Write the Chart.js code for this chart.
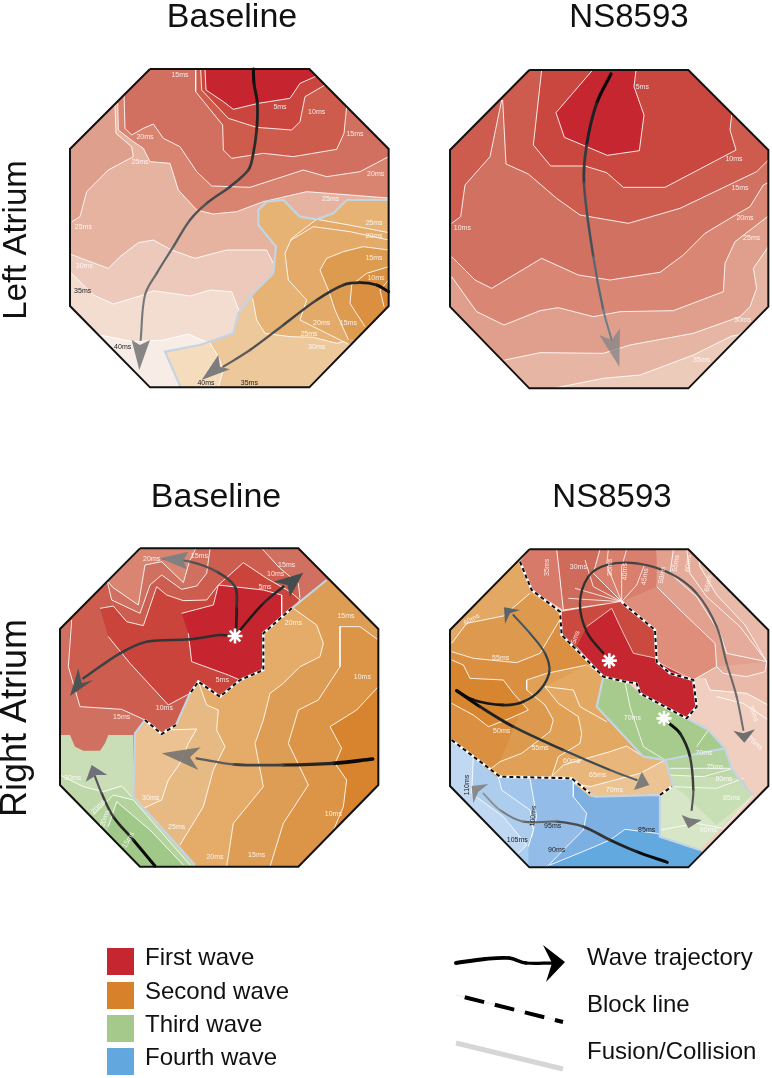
<!DOCTYPE html>
<html><head><meta charset="utf-8">
<script src="https://cdn.jsdelivr.net/npm/chart.js@4"></script>
<style>html,body{margin:0;padding:0;background:#fff}canvas{display:block;filter:blur(.3px)}</style>
</head><body><canvas id="c" width="772" height="1078"></canvas>
<script>
// ---------- text ----------
const panelTitles = [["Baseline",232,27,34],["NS8593",629,27,33],["Baseline",216,507,34],["NS8593",612,507,33]];
const rowTitles = [["Left Atrium",26,240,33],["Right Atrium",26,718,36]];
const legendWaves = ["First wave","Second wave","Third wave","Fourth wave"];
const legendLines = ["Wave trajectory","Block line","Fusion/Collision"];

// ---------- octagons ----------
const octA=[300,57,778,57,1016,297,1016,768,778,1012,300,1012,60,768,60,297];
const octB=[298,60,775,60,1015,300,1015,770,775,1015,298,1015,60,770,60,300];
const octC=[270,55,745,55,985,297,985,765,745,1010,270,1010,30,765,30,297];
const octD=[298,58,775,58,1015,300,1015,768,775,1012,298,1012,60,768,60,300];

// ---------- Left atrium, baseline ----------
const a40=[60,790,150,855,250,875,340,870,415,852,500,890];
const a35=[60,665,130,735,190,762,280,735,310,722,420,738,480,720,545,725,570,790];
const a30=[60,612,120,635,175,655,210,620,265,578,310,570,365,600,435,625,530,600,650,600,680,660];
const a25L=[195,165,198,250,245,290,250,320,175,360,110,425,90,500,66,515];
const a25=[203,160,205,240,250,275,280,295,300,335,360,340,385,420,440,480,490,492,560,485,640,455,770,425,900,435,1050,447];
const a20=[222,130,225,235,245,255,280,235,310,222,340,265,390,290,440,365,485,408,600,412,760,360,830,380,930,365,1016,320];
const a15=[437,57,437,125,518,225,520,300,545,325,640,310,730,320,860,298,882,250,890,170];
const a10=[452,57,455,120,535,205,620,232,725,240,750,215,765,140,825,105];
const a5=[465,57,468,120,520,155,550,178,625,160,720,145,750,100,800,78];
const aRim=[1016,450,890,450,850,490,800,508,750,500,700,450,650,455,625,480,625,525,678,590,670,670,610,730,565,790,550,850];
const aFuse=[1016,450,890,450,850,490,800,508,750,500,700,450,650,455,625,480,625,525,678,590,670,670,610,730,565,790,550,850,450,885,345,905,392,1012];
const aO35=[478,876,505,920,520,960,505,1012];
const aO30=[608,745,620,810,645,850,720,860,790,862,860,880,900,870];
const aO25=[1016,548,950,535,880,522,800,508,725,565,705,610,715,690,770,750,750,810,830,850,895,882];
const aO25b=[720,572,790,530,900,545,1016,570];
const aO20=[1016,600,940,590,880,605,830,625,810,660,835,720,855,780,895,868];
const aO15=[1016,650,950,670,905,705,900,760,945,830];
const aO10=[1016,690,990,720,1002,770];
const aTraj1=[610,57,612,100,622,160,620,240,608,320,595,360,540,410,470,460,420,510,370,590,320,670,285,735,272,870];
const aHead1=[268,960,245,870,270,885,300,870];
const aTraj2=[1016,725,980,705,930,698,880,705,800,750,700,825,600,900,520,950];
const aHead2=[455,990,505,915,510,950,540,958];
const aLabelsLight=[["15ms",390,75],["5ms",690,172],["10ms",800,185],["15ms",915,253],["20ms",285,262],["25ms",270,335],["20ms",977,372],["25ms",842,448],["25ms",972,518],["25ms",100,530],["20ms",972,558],["15ms",972,625],["30ms",103,648],["10ms",978,683],["20ms",815,818],["15ms",895,818],["25ms",777,852],["30ms",800,892]];
const aLabelsDark=[["35ms",98,722],["40ms",218,892],["40ms",468,998],["35ms",598,998]];

// ---------- Left atrium, NS8593 ----------
const b35=[370,1015,520,985,630,975,790,915,905,858,925,855,1020,775];
const b30=[225,930,330,908,520,910,600,885,790,850,930,800,960,770,980,715,970,655,1015,590];
const b25=[65,680,140,785,222,825,330,782,385,773,490,800,570,785,730,782,880,725,885,640,915,575,1015,498];
const b20=[65,620,135,690,185,715,335,625,445,675,540,690,690,667,760,615,825,550,925,490,960,470,1000,405,1050,380];
const b15=[218,150,228,342,295,372,380,445,450,495,595,520,750,475,980,365,1015,330];
const b15L=[215,150,180,320,105,405,92,500,65,520];
const b10=[335,60,310,285,362,348,465,348,530,368,580,412,705,412,918,300,900,240,905,195];
const b5=[488,60,378,188,403,262,532,316,628,302,642,195,612,110,618,60];
const bTraj=[543,72,500,160,470,285,462,400,490,620,520,780,545,870];
const bHead=[568,950,508,855,545,870,570,835];
const bLabels=[["5ms",637,110],["10ms",912,327],["15ms",930,415],["20ms",945,505],["10ms",97,533],["25ms",965,563],["30ms",938,810],["35ms",815,930]];

// ---------- Right atrium, baseline ----------
const cLobe=[440,50,418,95,400,158,335,95,285,105,265,225,188,172,170,150];
const c15Top=[480,57,470,130,440,168,395,178,335,135,300,165,270,250,185,210,172,155];
const c15Rest=[60,270,55,410,90,530,215,538,285,570,335,612,378,585,445,455,510,500,570,450,640,420,640,310,725,235,750,205,745,160,690,115,635,55];
const c15LineA=[65,270,55,410,90,530,215,538,285,570];
const c15LineB=[750,205,745,160,690,115,635,55];
const c10=[150,235,190,228,230,275,280,287,320,170,350,195,400,212,470,210,505,165,580,98,650,145,720,185,750,210,725,240,640,300,640,420,570,450,510,500,445,455,420,490,355,525,240,400,175,320];
const cCore=[395,250,490,225,505,165,640,180,695,195,695,260,640,310,640,410,620,440,570,450,535,435,425,395,415,310];
const cRim=[830,150,725,235,640,310,640,420,570,450,510,500,445,455,420,490,378,585];
const cOrange=[830,150,725,235,640,310,640,420,570,450,510,500,445,455,420,490,378,585,335,612,285,570,255,610,250,800,435,1008,745,1050,1050,1050,1050,150];
const cO30=[345,600,440,597,415,640,390,700,355,750,335,810,280,835];
const cO25=[445,455,470,525,505,540,500,600,525,650,490,720,460,830,390,945];
const cO20=[730,235,800,285,820,340,810,380,750,410,700,460,660,490,640,570,615,640,640,770,550,880,530,1010];
const cO15=[985,330,930,290,870,290,870,410,805,510,745,540,715,640,775,765,700,880,660,1010];
const cO10=[985,470,920,540,840,590,875,655,855,700,890,750,880,830,805,1010];
const cGreen=[0,615,60,615,75,650,100,662,150,662,165,640,175,615,250,615,250,800,435,1008,270,1050,0,800];
const cG30=[30,735,100,770,160,785,215,768,245,800];
const cG25=[130,855,190,795,250,810,420,1005];
const cG20=[175,890,200,815,300,900,400,1005];
const cFuse1=[830,150,725,235];
const cFuse2=[420,490,378,585];
const cFuse3=[285,570,255,610,250,800,435,1005];
const cBlock1=[725,235,640,310,640,420,570,450,510,500,445,455,420,490];
const cBlock2=[285,570,335,612,378,585];
const cStar=[555,318];
const cTraj1=[555,318,510,315,420,328,290,335,210,370,100,445];
const cHead1=[60,498,85,415,95,460,130,450];
const cTraj2=[558,310,560,230,555,170,500,125,420,95,340,87];
const cHead2=[330,85,415,65,400,90,410,118];
const cTraj3=[570,300,640,220,700,170];
const cHead3=[760,128,670,155,712,165,720,200];
const cTraj4=[968,687,850,700,700,705,550,703,440,685];
const cHead4=[335,670,452,652,420,682,445,720];
const cTraj5=[315,1008,250,930,190,860,155,790,135,740];
const cHead5=[125,705,172,735,140,735,107,755];
const cLabels=[["20ms",305,87],["15ms",448,78],["15ms",710,105],["10ms",677,133],["5ms",645,172],["20ms",730,278],["15ms",888,258],["10ms",937,440],["5ms",517,450],["10ms",343,535],["15ms",215,562],["30ms",68,745],["30ms",302,803],["25ms",380,890],["10ms",850,853],["20ms",495,982],["15ms",620,975],["20ms",145,830,-45],["20ms",165,865,-70],["15ms",235,930,-60]];

// ---------- Right atrium, NS8593 ----------
const dLow=[825,445,840,480,950,490,1015,525];
const dB2=[800,58,810,110,860,195,945,285,1010,395,1005,425,950,440,880,430,860,410];
const dB3=[730,58,720,130,800,200,870,310,890,370,1010,395];
const dB3b=[770,58,780,130,830,200,930,290,1010,395];
const dB4=[680,60,670,120,680,170,750,240,855,340,860,410,790,450];
const dExtra=[860,500,940,520,1015,570];
const dL0=[380,58,385,100,400,240,305,180,270,95,298,58];
const dL1=[380,58,385,100,400,240,575,215,490,130,510,58];
const dFan1=[575,215,415,205];
const dFan2=[575,215,435,175];
const dFan3=[575,215,530,105,535,58];
const dFan4=[575,215,575,110,590,58];
const dFan5=[575,215,620,165,645,100];
const dFan6=[575,215,490,170,465,90];
const dFan7=[400,240,440,290];
const dFan8=[400,280,540,235];
const dRed1=[395,245,575,215,585,225,675,300,680,395,790,450,800,530,770,565,625,490,615,460,520,440,395,315];
const dRed0=[470,290,545,235,580,310,610,370,680,385,690,400,790,450,800,530,770,565,625,490,615,460,520,440,440,350];
const dOrange=[270,95,305,180,390,245,395,315,520,440,500,530,640,680,705,690,730,770,690,795,480,800,425,745,220,740,65,630,0,630,0,95];
const dO60=[65,340,110,280,220,258,300,190];
const dO55=[65,365,130,385,260,398,330,370,392,265];
const dO50=[65,390,100,405,120,445,220,450,250,490,295,540,240,565,175,590,130,555,65,520];
const dR1=[495,420,470,405,350,430,290,450,290,480,345,525,370,570,360,605,275,670,210,695,180,718];
const dR2=[345,470,385,520,445,560,455,610,450,640,385,680,365,740];
const dR2b=[345,470,430,480,450,530,530,575];
const dR3=[365,740,400,705,540,665,590,648,640,680,705,690];
const dR4=[430,760,480,770,630,730,705,690];
const dGreen=[520,440,585,455,620,480,630,490,770,565,780,565,835,600,885,655,905,715,945,770,970,795,810,960,690,920,690,795,730,770,705,690,640,680,500,530];
const dG1=[730,770,760,790,800,830,860,885,968,797,945,770,905,715,885,655,705,690];
const dG2=[720,735,935,745,968,797,945,770,905,715,885,655,705,690];
const dG3=[705,690,885,655,905,715,720,715];
const dG0=[520,440,590,455,630,490,770,565,835,600,885,655,705,690,640,680,500,530];
const dGL1=[585,455,600,530,640,650,705,690];
const dGL2=[800,650,835,600];
const dGL3=[720,735,820,740,910,715];
const dGL4=[730,770,860,775,940,745];
const dGL5=[690,900,800,880,880,895,968,797];
const dBlue=[65,630,210,740,425,745,480,800,690,795,690,920,810,960,780,1050,298,1050,0,770,0,630];
const dBL1=[130,680,125,790,220,860,290,945,250,985];
const dBL2=[205,740,215,780,300,840,310,900,295,950];
const dBL3=[300,745,320,860,305,920,265,975];
const dBL4=[430,750,430,800,470,850,460,900,400,960,350,1012];
const dBL5=[360,1005,470,960,540,930,585,898,680,910,810,960];
const dFuseA=[520,440,500,530,640,680,705,690,730,770];
const dFuseB=[480,790,495,800,690,795,690,920,810,960];
const dFuseC=[705,690,885,655,905,715,945,770,970,795];
const dFuseD=[770,565,835,600,885,655];
const dBlock1=[270,95,305,180,390,245,395,315,520,440,585,455,620,460,630,490,770,565,800,530,790,450,720,430,680,395,675,300,585,225,575,215];
const dBlock2=[65,630,210,740,425,745,480,790];
const dBlock3=[690,795,725,770];
const dStar1=[538,392];
const dStar2=[702,565];
const dTraj1=[520,370,470,305,450,220,475,140,530,105,620,100,720,130,800,190,860,290,890,400,920,500,940,600];
const dHead1=[943,638,910,602,940,610,975,598];
const dTraj2=[80,482,130,510,220,525,280,515,330,480,358,425,345,370,300,310,250,255];
const dHead2=[222,232,270,240,240,250,225,282];
const dTraj3=[80,482,150,530,250,590,400,660,540,720,620,750];
const dHead3=[658,765,635,725,625,750,612,780];
const dTraj4=[715,578,750,610,780,680,790,780,785,840];
const dHead4=[775,895,755,855,780,865,815,870];
const dTraj5=[712,997,620,965,540,930,460,890,380,875,280,875,210,840,160,790];
const dHead5=[125,768,175,762,145,785,130,820];
const dLabelsLight=[["35ms",350,112,-90],["30ms",445,112],["35ms",540,112,-90],["40ms",585,125,-90],["45ms",645,140,-80],["50ms",697,135,-80],["55ms",738,100,-80],["60ms",775,100,-85],["65ms",835,160,-80],["60ms",125,268,-30],["55ms",212,385],["5ms",437,322,-70],["50ms",215,603],["55ms",330,655],["60ms",425,692],["65ms",503,735],["70ms",553,780],["70ms",607,563],["70ms",822,668],["75ms",855,710],["80ms",882,748],["85ms",905,803],["90ms",835,900],["70ms",970,550,70],["75ms",975,640,40]];
const dLabelsDark=[["110ms",110,765,-90],["100ms",310,858,-85],["95ms",368,887],["105ms",262,930],["90ms",380,960],["85ms",650,900]];

// ---------- Legend (page units) ----------
const legSwatches=[[107,948,134,948,134,975,107,975],[107,982,134,982,134,1009,107,1009],[107,1015,134,1015,134,1042,107,1042],[107,1048,134,1048,134,1075,107,1075]];
const legTraj=[456,963,485,959,509,958,526,963,552,963];
const legHead=[565,962,543,945,552,963,546,982];
const legBlock=[456,995,563,1022];
const legFuse=[456,1043,563,1069];

// ---------- helpers ----------
const A={ox:50,oy:50,k:1/3,oct:octA},B={ox:430,oy:50,k:1/3,oct:octB},C={ox:50,oy:530,k:1/3,oct:octC},D={ox:430,oy:530,k:1/3,oct:octD},PAGE={ox:0,oy:0,k:1};
const pts=(f,p)=>{const r=[];for(let i=0;i<f.length;i+=2)r.push({x:p.ox+f[i]*p.k,y:p.oy+f[i+1]*p.k});return r;};
function clip(points,p,closed){
  if(!p.oct)return points;const o=pts(p.oct,p);let out=points;
  for(let i=0;i<o.length;i++){
    const a=o[i],b=o[(i+1)%o.length],ins=q=>(b.x-a.x)*(q.y-a.y)-(b.y-a.y)*(q.x-a.x)>=0;
    const hit=(s,e)=>{const d1=(b.x-a.x)*(s.y-a.y)-(b.y-a.y)*(s.x-a.x),d2=(b.x-a.x)*(e.y-a.y)-(b.y-a.y)*(e.x-a.x),t=d1/(d1-d2);return{x:s.x+(e.x-s.x)*t,y:s.y+(e.y-s.y)*t};};
    const res=[];
    for(let j=0;j<out.length;j++){
      const cur=out[j];let prev=out[j-1];
      if(j===0){if(closed)prev=out[out.length-1];else{if(ins(cur))res.push(cur);continue;}}
      if(ins(cur)){if(!ins(prev))res.push(hit(prev,cur));res.push(cur);}
      else if(ins(prev))res.push(hit(prev,cur));
    }
    out=res;
  }
  return out;
}
const datasets=[];
const base={showLine:true,pointRadius:0,pointHoverRadius:0,borderWidth:0,tension:0};
function area(p,color,...parts){datasets.push({...base,data:clip(pts(parts.flat(),p),p,true),fill:'shape',backgroundColor:color,borderColor:color});}
function iso(p,f,w=1,c='rgba(255,255,255,.88)'){datasets.push({...base,data:clip(pts(f,p),p,false),borderColor:c,borderWidth:w,fill:false});}
function band(p,color,contour,...closure){area(p,color,contour,...closure);iso(p,contour);}
function outline(p){const f=p.oct.concat(p.oct.slice(0,2));datasets.push({...base,data:pts(f,p),borderColor:'#111',borderWidth:2,fill:false,borderJoinStyle:'miter'});}
function fuse(p,f){iso(p,f,2.2,'#c3d5e3');}
function block(p,f){iso(p,f,2.6,'#ffffff');datasets.push({...base,data:pts(f,p),borderColor:'#0d0d0d',borderWidth:2,borderDash:[4,3],fill:false});}
const hex=c=>[1,3,5].map(i=>parseInt(c.substr(i,2),16));
const mix=(a,b,t)=>{const x=hex(a),y=hex(b);return `rgb(${x.map((v,i)=>Math.round(v+(y[i]-v)*t)).join(',')})`;};
function traj(p,f,c0,c1,w0,w1,head,hc){
  const d=pts(f,p),n=Math.max(d.length-1,1);
  datasets.push({...base,data:d,tension:.35,borderColor:c0,borderWidth:w0,borderCapStyle:'round',borderJoinStyle:'round',fill:false,
    segment:{borderColor:s=>mix(c0,c1,s.p0DataIndex/n),borderWidth:s=>w0+(w1-w0)*s.p0DataIndex/n}});
  datasets.push({...base,data:pts(head,p),fill:'shape',backgroundColor:hc,borderColor:hc});
}
function star(p,f){const q=pts(f,p);datasets.push({data:q,showLine:false,pointStyle:'star',pointRadius:7.5,pointHoverRadius:7.5,pointBorderColor:'#fff',pointBackgroundColor:'#fff',pointBorderWidth:2.6,borderColor:'#fff'});}

// ---------- Panel A ----------
area(A,'#f8ece6',[0,0,1050,0,1050,1050,0,1050]);
band(A,'#f3dcd0',a40,[1050,890,1050,0,0,0,0,790]);
band(A,'#ecc9ba',a35,[1050,790,1050,0,0,0,0,665]);
band(A,'#e6b3a1',a30,[1050,660,1050,0,0,0,0,612]);
band(A,'#df9f8d',a25L,[0,515,0,0,195,0]);
band(A,'#d98471',a25,[1050,0,203,0]);
band(A,'#d17060',a20,[1050,300,1050,0,222,0]);
band(A,'#ce5c4c',a15,[890,0,437,0]);
band(A,'#ca453d',a10,[850,90,850,0,452,0]);
band(A,'#c6252f',a5,[800,0,465,0]);
area(A,'#f5dcbd',aFuse,[1050,1050,1050,450]);
band(A,'#edc89a',aO35,[505,1050,1050,1050,1050,450],aRim);
band(A,'#e6b375',aO30,[1050,870,1050,450],aRim.slice(0,24));
band(A,'#e3aa69',aO25,[1050,882,1050,548]);
iso(A,aO25b);
band(A,'#dd9b50',aO20,[1050,860,1050,600]);
band(A,'#da9040',aO15,[1050,820,1050,650]);
band(A,'#d8862f',aO10,[1050,770,1050,690]);
fuse(A,aFuse);
outline(A);
traj(A,aTraj1,'#0d0d0d','#7d8385',3,2,aHead1,'#868686');
traj(A,aTraj2,'#0d0d0d','#6a6a6a',3,2,aHead2,'#7d7d7d');

// ---------- Panel B ----------
area(B,'#edcbbb',[0,0,1050,0,1050,1050,0,1050]);
band(B,'#e6b5a3',b35,[1050,775,1050,0,0,0,0,1020]);
band(B,'#e09f8c',b30,[1050,560,1050,0,0,0,0,850]);
band(B,'#d98774',b25,[1050,498,1050,0,0,0,0,680]);
band(B,'#d17161',b20,[1050,0,0,0,0,620]);
band(B,'#cd5c4e',b15,[1050,330,1050,0,218,0]);
band(B,'#cd5c4e',b15L,[0,525,0,0,215,0]);
band(B,'#c9473e',b10,[920,0,335,0]);
band(B,'#c6262f',b5,[618,0,488,0]);
outline(B);
traj(B,bTraj,'#0a0a0a','#7e99a4',3.2,1.8,bHead,'rgba(135,135,135,.8)');

// ---------- Panel C ----------
area(C,'#d07060',[0,0,1050,0,1050,1050,0,1050]);
band(C,'#d98572',cLobe,[270,0,440,0]);
area(C,'#cd5d4e',c15Rest,[620,0,480,0],c15Top);
iso(C,c15Top);iso(C,c15LineA);iso(C,c15LineB);
area(C,'#ca443c',c10);iso(C,c10);
area(C,'#c6252f',cCore);iso(C,cCore);
area(C,'#ecc293',cOrange);
band(C,'#e8ba83',cO30,[435,1008,745,1050,1050,1050,1050,150],cRim);
band(C,'#e4ab69',cO25,[435,1008,745,1050,1050,1050,1050,150],cRim.slice(0,12));
band(C,'#de9d55',cO20,[1050,1050,1050,150,830,150]);
band(C,'#dc9547',cO15,[1050,1050,1050,330]);
band(C,'#d8842f',cO10,[1050,1050,1050,470]);
area(C,'#c9deb6',cGreen);
band(C,'#bfd8aa',cG30,[435,1008,270,1050,0,800,0,735]);
band(C,'#b3d29c',cG25,[270,1050,80,900]);
band(C,'#a0c888',cG20,[400,1050,175,1050]);
fuse(C,cFuse1);fuse(C,cFuse2);fuse(C,cFuse3);
block(C,cBlock1);block(C,cBlock2);
outline(C);
traj(C,cTraj1,'#2a2a2a','#404849',2.6,2.4,cHead1,'#4d5354');
traj(C,cTraj2,'#222222','#707070',2.8,2,cHead2,'#808080');
traj(C,cTraj3,'#1a1a1a','#303a3c',2.4,2.6,cHead3,'#454c4e');
traj(C,cTraj4,'#0a0a0a','#777777',3.6,2,cHead4,'rgba(110,110,110,.85)');
traj(C,cTraj5,'#0a0a0a','#6d6d75',3,1.8,cHead5,'#70707a');
star(C,cStar);

// ---------- Panel D ----------
area(D,'#f0cfc0',[0,0,1050,0,1050,1050,0,1050]);
band(D,'#e9baa9',dLow,[1050,525,1050,0,800,0,780,440]);
area(D,'#e6ac9b',dB2,[700,300,700,58]);iso(D,dB2);
area(D,'#e2a08f',dB3,[860,410,700,400,600,58]);iso(D,dB3);iso(D,dB3b);
area(D,'#de8e7b',dB4,[680,395,575,215,500,58]);iso(D,dB4);
iso(D,dExtra);
area(D,'#d97f6d',[510,58,490,130,575,215,680,170,680,58]);
area(D,'#d87a69',dL0);
area(D,'#cf6b5a',dL1);iso(D,dL1);
[dFan1,dFan2,dFan3,dFan4,dFan5,dFan6,dFan7,dFan8].forEach(f=>iso(D,f,.9));
area(D,'#ca4a40',dRed1);
area(D,'#c6262f',dRed0);iso(D,dRed0,.8);
area(D,'#7cb0e2',dBlue);
area(D,'#62a9e0',dBL5,[900,1050,300,1050]);iso(D,dBL5);
area(D,'#93bde8',dBL4,[350,1050,0,1050,0,630,65,630,210,740,425,745]);iso(D,dBL4);
area(D,'#a3c6ec',dBL3,[265,1050,0,1050,0,630,65,630,210,740,300,742]);iso(D,dBL3);
area(D,'#adcdee',dBL2,[295,1050,0,1050,0,630,65,630,205,738]);iso(D,dBL2);
area(D,'#c0d8f1',dBL1,[250,1050,0,1050,0,630,65,630,130,680]);iso(D,dBL1);
area(D,'#e2a864',dOrange);
band(D,'#dd9a4e',dO60,[390,245,395,315,520,440,500,530,200,740,65,630,0,630,0,340]);
band(D,'#da9040',dO55,[395,315,495,420,290,500,200,720,65,630,0,630,0,365]);
band(D,'#e0a055',dR1,[220,740,425,745,480,800,690,795,730,770,705,690,640,680,500,530,520,440]);
band(D,'#d8852f',dO50,[0,520,0,390]);
band(D,'#e3a862',dR2,[425,745,480,800,690,795,730,770,705,690,640,680,500,530,520,440,470,405]);
iso(D,dR2b);
band(D,'#e8b67b',dR3,[730,770,690,795,480,800,425,745]);
band(D,'#ecc392',dR4,[730,770,690,795,480,800]);
area(D,'#d8e6c8',dGreen);
area(D,'#c8deb5',dG1);
area(D,'#bdd7a8',dG2);
area(D,'#b4d29d',dG3);
area(D,'#a6cb8d',dG0);
[dG3,dGL1,dGL2,dGL3,dGL4,dGL5].forEach(f=>iso(D,f,.9));
fuse(D,dFuseA);fuse(D,dFuseB);fuse(D,dFuseC);fuse(D,dFuseD);
block(D,dBlock1);block(D,dBlock2);block(D,dBlock3);
outline(D);
traj(D,dTraj1,'#222222','#777777',2.4,2,dHead1,'#6f6f6f');
traj(D,dTraj2,'#0a0a0a','#4c6470',3,1.8,dHead2,'#5a6468');
traj(D,dTraj3,'#0a0a0a','#5d7480',3,1.8,dHead3,'#7c7c7c');
traj(D,dTraj4,'#0a0a0a','#707070',3,1.8,dHead4,'#7a7a7a');
traj(D,dTraj5,'#0a0a0a','#a5a5a5',3,1.6,dHead5,'#8a8a8a');
star(D,dStar1);star(D,dStar2);

// ---------- Legend ----------
['#c6262f','#d8812b','#a5c98a','#62a7de'].forEach((c,i)=>area(PAGE,c,legSwatches[i]));
traj(PAGE,legTraj,'#000000','#000000',4,3,legHead,'#000000');
iso(PAGE,legBlock,.6,'#dddddd');
datasets.push({...base,data:pts(legBlock,PAGE),borderColor:'#000',borderWidth:4,borderDash:[20,11],borderDashOffset:-9,fill:false});
iso(PAGE,legFuse,5,'#d4d6d8');

const textPlugin={id:'text',afterDatasetsDraw(ch){
  const g=ch.ctx,sx=ch.scales.x,sy=ch.scales.y;
  const put=(t,x,y,font,color,rot,bl='middle')=>{g.save();g.translate(sx.getPixelForValue(x),sy.getPixelForValue(y));if(rot)g.rotate(rot*Math.PI/180);g.font=font;g.fillStyle=color;g.textAlign='center';g.textBaseline=bl;g.fillText(t,0,0);g.restore();};
  const F='"Liberation Sans",Arial,sans-serif';
  const group=(p,list,color)=>list.forEach(([t,x,y,r])=>put(t,p.ox+x*p.k,p.oy+y*p.k,`7px ${F}`,color,r));
  const L='rgba(255,255,255,.85)',K='#1c1c1c';
  group(A,aLabelsLight,L);group(A,aLabelsDark,K);group(B,bLabels,L);group(C,cLabels,L);group(D,dLabelsLight,L);group(D,dLabelsDark,K);
  panelTitles.forEach(([t,x,y,s])=>put(t,x,y,`${s}px ${F}`,'#111',0,'alphabetic'));
  rowTitles.forEach(([t,x,y,s])=>put(t,x,y,`${s}px ${F}`,'#111',-90,'alphabetic'));
  g.save();g.textAlign='left';
  const left=(t,x,y,s)=>{g.font=`${s}px ${F}`;g.fillStyle='#111';g.textBaseline='middle';g.fillText(t,sx.getPixelForValue(x),sy.getPixelForValue(y));};
  legendWaves.forEach((t,i)=>left(t,145,[958,992,1025,1058][i],24));
  legendLines.forEach((t,i)=>left(t,587,[958,1005,1052][i],24));
  g.restore();
}};

new Chart(document.getElementById('c'),{type:'scatter',
  data:{datasets:datasets.slice().reverse()},
  options:{responsive:false,animation:false,events:[],layout:{padding:0,autoPadding:false},
    plugins:{legend:{display:false},tooltip:{enabled:false},title:{display:false}},
    scales:{x:{type:'linear',min:0,max:772,display:false},y:{type:'linear',min:0,max:1078,reverse:true,display:false}}},
  plugins:[textPlugin]});
</script></body></html>
